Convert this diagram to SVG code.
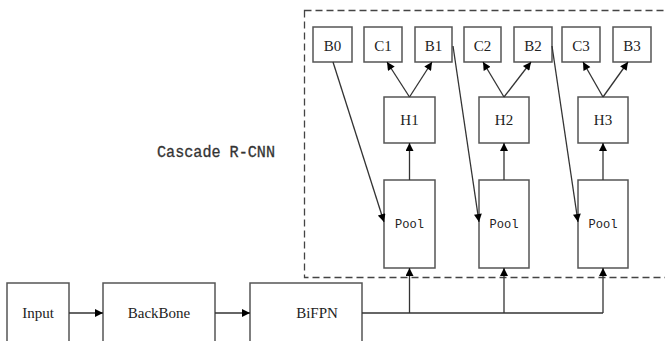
<svg xmlns="http://www.w3.org/2000/svg" width="665" height="341" viewBox="0 0 665 341">
  <style>
    .box { fill: #fff; stroke: #555; stroke-width: 1.5; }
    .lbl { font-family: "Liberation Serif", serif; font-size: 15px; fill: #222; text-anchor: middle; }
    .mono { font-family: "Liberation Mono", monospace; font-size: 13px; fill: #222; text-anchor: middle; }
    .edge { fill: none; stroke: #333; stroke-width: 1.3; }
  </style>
  <defs>
    <marker id="arr" viewBox="0 0 10 10" refX="10" refY="5" markerWidth="10" markerHeight="8" markerUnits="userSpaceOnUse" orient="auto">
      <path d="M0,0 L10,5 L0,10 Z" fill="#000"/>
    </marker>
  </defs>

  <rect x="0" y="0" width="665" height="341" fill="#fff"/>

  <!-- cascade region -->
  <g id="cascade">
    <rect x="304.5" y="10.5" width="380" height="267" fill="none" stroke="#444" stroke-width="1.3" stroke-dasharray="7,4"/>
    <text x="157" y="157" font-family="Liberation Mono, monospace" font-size="16" fill="#333" stroke="#333" stroke-width="0.3" textLength="118" lengthAdjust="spacingAndGlyphs">Cascade R-CNN</text>
  </g>

  <!-- top row -->
  <g id="B0"><rect class="box" x="313" y="27" width="39" height="35"/><text class="lbl" x="332.5" y="51">B0</text></g>
  <g id="C1"><rect class="box" x="364" y="27" width="38" height="35"/><text class="lbl" x="383" y="51">C1</text></g>
  <g id="B1"><rect class="box" x="415" y="27" width="37" height="35"/><text class="lbl" x="433.5" y="51">B1</text></g>
  <g id="C2"><rect class="box" x="464" y="27" width="37" height="35"/><text class="lbl" x="482.5" y="51">C2</text></g>
  <g id="B2"><rect class="box" x="514" y="27" width="38" height="35"/><text class="lbl" x="533" y="51">B2</text></g>
  <g id="C3"><rect class="box" x="562" y="27" width="38" height="35"/><text class="lbl" x="581" y="51">C3</text></g>
  <g id="B3"><rect class="box" x="613" y="27" width="38" height="35"/><text class="lbl" x="632" y="51">B3</text></g>

  <!-- heads -->
  <g id="H1"><rect class="box" x="384" y="97" width="51" height="46"/><text class="lbl" x="409.5" y="125">H1</text></g>
  <g id="H2"><rect class="box" x="479" y="97" width="50" height="46"/><text class="lbl" x="504" y="125">H2</text></g>
  <g id="H3"><rect class="box" x="578" y="97" width="50" height="46"/><text class="lbl" x="603" y="125">H3</text></g>

  <!-- pooling -->
  <g id="Pool1"><rect class="box" x="384" y="180" width="51" height="88"/><text class="mono" x="409.5" y="228" textLength="29" lengthAdjust="spacingAndGlyphs">Pool</text></g>
  <g id="Pool2"><rect class="box" x="479" y="180" width="50" height="88"/><text class="mono" x="504" y="228" textLength="29" lengthAdjust="spacingAndGlyphs">Pool</text></g>
  <g id="Pool3"><rect class="box" x="578" y="180" width="50" height="88"/><text class="mono" x="603" y="228" textLength="29" lengthAdjust="spacingAndGlyphs">Pool</text></g>

  <!-- bottom row -->
  <g id="Input"><rect class="box" x="7" y="283" width="62" height="70"/><text class="lbl" x="38" y="318">Input</text></g>
  <g id="BackBone"><rect class="box" x="103" y="283" width="112" height="70"/><text class="lbl" x="159" y="318">BackBone</text></g>
  <g id="BiFPN"><rect class="box" x="250" y="283" width="112" height="70"/><text class="lbl" x="317" y="318">BiFPN</text></g>

  <g id="connectors">
    <line class="edge" x1="69" y1="313" x2="103" y2="313" marker-end="url(#arr)"/>
    <line class="edge" x1="215" y1="313" x2="250" y2="313" marker-end="url(#arr)"/>
    <polyline class="edge" points="362,313 603,313"/>
    <line class="edge" x1="409.5" y1="313" x2="409.5" y2="268" marker-end="url(#arr)"/>
    <line class="edge" x1="504" y1="313" x2="504" y2="268" marker-end="url(#arr)"/>
    <line class="edge" x1="603" y1="313" x2="603" y2="268" marker-end="url(#arr)"/>

    <line class="edge" x1="409.5" y1="180" x2="409.5" y2="143" marker-end="url(#arr)"/>
    <line class="edge" x1="504" y1="180" x2="504" y2="143" marker-end="url(#arr)"/>
    <line class="edge" x1="603" y1="180" x2="603" y2="143" marker-end="url(#arr)"/>

    <line class="edge" x1="409.5" y1="97" x2="387" y2="62" marker-end="url(#arr)"/>
    <line class="edge" x1="409.5" y1="97" x2="432" y2="62" marker-end="url(#arr)"/>
    <line class="edge" x1="504" y1="97" x2="483" y2="62" marker-end="url(#arr)"/>
    <line class="edge" x1="504" y1="97" x2="531" y2="62" marker-end="url(#arr)"/>
    <line class="edge" x1="603" y1="97" x2="583" y2="62" marker-end="url(#arr)"/>
    <line class="edge" x1="603" y1="97" x2="628" y2="62" marker-end="url(#arr)"/>

    <line class="edge" x1="333" y1="62" x2="384" y2="222" marker-end="url(#arr)"/>
    <line class="edge" x1="453" y1="46" x2="479" y2="222" marker-end="url(#arr)"/>
    <line class="edge" x1="552" y1="46" x2="578" y2="222" marker-end="url(#arr)"/>
  </g>
</svg>
